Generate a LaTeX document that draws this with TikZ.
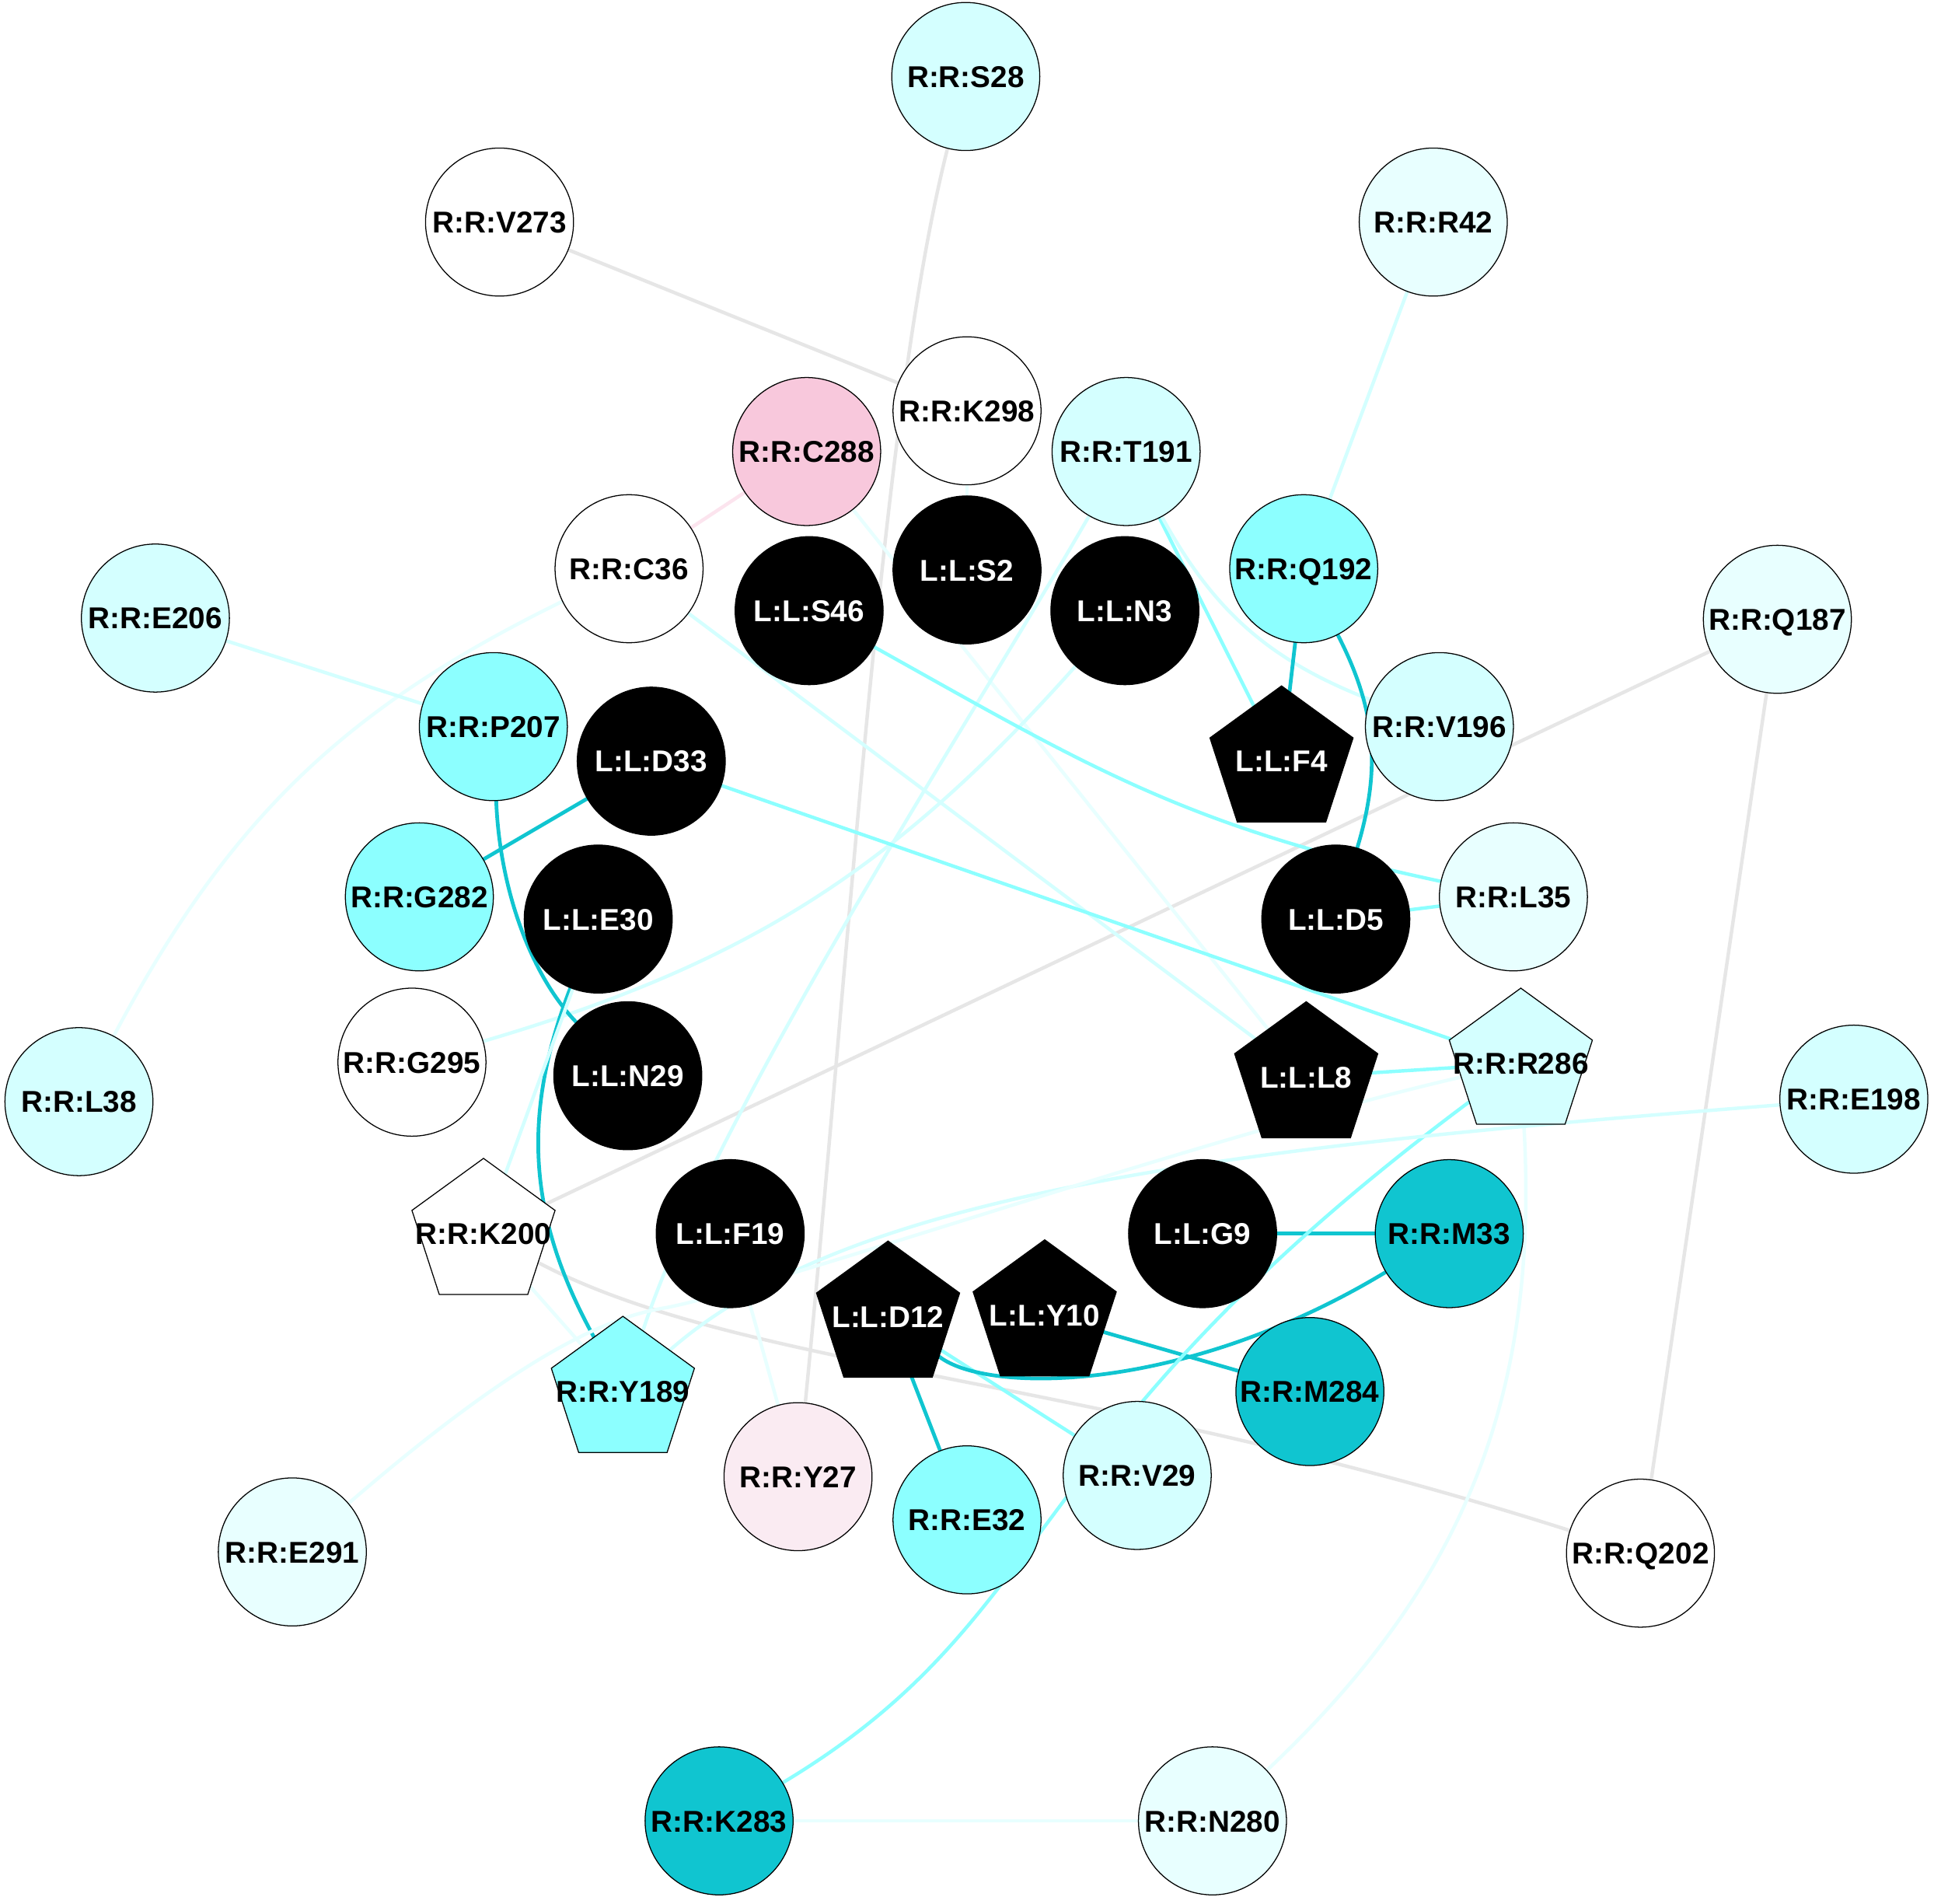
\documentclass[tikz,border=0pt]{standalone}
\usepackage{fontspec}
\setmainfont{Liberation Sans}
\usetikzlibrary{shapes.geometric}
\pgfdeclarelayer{bg}
\pgfsetlayers{bg,main}
\definecolor{cD}{RGB}{16,197,208}
\definecolor{cM}{RGB}{140,255,255}
\definecolor{cL}{RGB}{212,255,255}
\definecolor{cV}{RGB}{232,255,255}
\definecolor{cPk}{RGB}{248,200,220}
\definecolor{cPl}{RGB}{250,235,242}
\definecolor{cG}{RGB}{230,230,230}
\definecolor{cEP}{RGB}{252,228,238}
\newcommand{\nlab}[1]{\makebox[0pt][c]{#1}}
\begin{document}
\begin{tikzpicture}[x=0.5pt,y=0.5pt,
  base/.style={inner sep=0pt, outer sep=0pt, font=\fontsize{12.2}{14}\selectfont\bfseries,
    text height=8.8pt, text depth=0pt, draw=black, line width=0.4pt},
  rc/.style={base, circle, minimum size=60pt},
  rp/.style={base, regular polygon, regular polygon sides=5, minimum size=61pt},
  lc/.style={rc, fill=black, text=white},
  lp/.style={rp, fill=black, text=white},
  edgebase/.style={line width=1.4pt},
  eG/.style={edgebase, draw=cG},
  eD/.style={edgebase, draw=cD, line width=1.5pt},
  eM/.style={edgebase, draw=cM},
  eL/.style={edgebase, draw=cL},
  eV/.style={edgebase, draw=cV},
  eP/.style={edgebase, draw=cEP}]
\useasboundingbox (0,0) rectangle (1568,-1543);
% nodes
\node[rc, fill=cL] (S28) at (783,-62) {\nlab{R:R:S28}};
\node[rc, fill=white] (V273) at (405,-180) {\nlab{R:R:V273}};
\node[rc, fill=cV] (R42) at (1162,-180) {\nlab{R:R:R42}};
\node[rc, fill=white] (K298) at (784,-333) {\nlab{R:R:K298}};
\node[rc, fill=cPk] (C288) at (654,-366) {\nlab{R:R:C288}};
\node[rc, fill=cL] (T191) at (913,-366) {\nlab{R:R:T191}};
\node[rc, fill=white] (C36) at (510,-461) {\nlab{R:R:C36}};
\node[lc] (S46) at (656,-495) {\nlab{L:L:S46}};
\node[lc] (S2) at (784,-462) {\nlab{L:L:S2}};
\node[lc] (N3) at (912,-495) {\nlab{L:L:N3}};
\node[rc, fill=cM] (Q192) at (1057,-461) {\nlab{R:R:Q192}};
\node[rc, fill=cL] (E206) at (126,-501) {\nlab{R:R:E206}};
\node[rc, fill=cV] (Q187) at (1441,-502) {\nlab{R:R:Q187}};
\node[rc, fill=cM] (P207) at (400,-589) {\nlab{R:R:P207}};
\node[lc] (D33) at (528,-617) {\nlab{L:L:D33}};
\node[lp] (F4) at (1039,-617) {\nlab{L:L:F4}};
\node[rc, fill=cL] (V196) at (1167,-589) {\nlab{R:R:V196}};
\node[rc, fill=cM] (G282) at (340,-727) {\nlab{R:R:G282}};
\node[lc] (E30) at (485,-745) {\nlab{L:L:E30}};
\node[lc] (D5) at (1083,-745) {\nlab{L:L:D5}};
\node[rc, fill=cV] (L35) at (1227,-727) {\nlab{R:R:L35}};
\node[rc, fill=white] (G295) at (334,-861) {\nlab{R:R:G295}};
\node[lc] (N29) at (509,-872) {\nlab{L:L:N29}};
\node[lp] (L8) at (1059,-873) {\nlab{L:L:L8}};
\node[rp, fill=cL] (R286) at (1233,-862) {\nlab{R:R:R286}};
\node[rc, fill=cL] (L38) at (64,-893) {\nlab{R:R:L38}};
\node[rc, fill=cL] (E198) at (1503,-891) {\nlab{R:R:E198}};
\node[rp, fill=white] (K200) at (392,-1000) {\nlab{R:R:K200}};
\node[lc] (F19) at (592,-1000) {\nlab{L:L:F19}};
\node[lc] (G9) at (975,-1000) {\nlab{L:L:G9}};
\node[rc, fill=cD] (M33) at (1175,-1000) {\nlab{R:R:M33}};
\node[lp] (D12) at (720,-1067) {\nlab{L:L:D12}};
\node[lp] (Y10) at (847,-1066) {\nlab{L:L:Y10}};
\node[rp, fill=cM] (Y189) at (505,-1128) {\nlab{R:R:Y189}};
\node[rc, fill=cD] (M284) at (1062,-1128) {\nlab{R:R:M284}};
\node[rc, fill=cPl] (Y27) at (647,-1197) {\nlab{R:R:Y27}};
\node[rc, fill=cM] (E32) at (784,-1232) {\nlab{R:R:E32}};
\node[rc, fill=cL] (V29) at (922,-1196) {\nlab{R:R:V29}};
\node[rc, fill=cV] (E291) at (237,-1258) {\nlab{R:R:E291}};
\node[rc, fill=white] (Q202) at (1330,-1259) {\nlab{R:R:Q202}};
\node[rc, fill=cD] (K283) at (583,-1476) {\nlab{R:R:K283}};
\node[rc, fill=cV] (N280) at (983,-1476) {\nlab{R:R:N280}};
% edges
\begin{pgfonlayer}{bg}
\fill[white] (0,0) rectangle (1568,-1543);
\draw[eG] (S28) .. controls (715,-330) and (690,-760) .. (Y27);
\draw[eG] (V273) -- (K298);
\draw[eG] (Q187) -- (K200);
\draw[eG] (Q187) -- (Q202);
\draw[eG] (K200) .. controls (600,-1110) and (880,-1115) .. (Q202);
\draw[eL] (R42) -- (Q192);
\draw[eP] (C288) -- (C36);
\draw[eV] (C288) -- (L8);
\draw[eL] (C36) -- (L8);
\draw[eV] (C36) to[bend right=18] (L38);
\draw[eL] (E206) -- (P207);
\draw[eV] (K298) -- (S2);
\draw[eM] (T191) -- (F4);
\draw[eL] (T191) to[bend right=20] (V196);
\draw[eL] (T191) .. controls (790,-580) and (580,-900) .. (Y189);
\draw[eL] (N3) to[bend left=16] (G295);
\draw[eD] (Q192) -- (F4);
\draw[eD] (Q192) to[bend left=22] (D5);
\draw[eM] (S46) .. controls (880,-620) and (960,-670) .. (L35);
\draw[eD] (D33) -- (G282);
\draw[eM] (D33) -- (R286);
\draw[eD] (P207) .. controls (405,-720) and (430,-790) .. (N29);
\draw[eD] (E30) to[bend right=25] (Y189);
\draw[eL] (K200) -- (E30);
\draw[eV] (K200) -- (Y189);
\draw[eV] (F19) -- (Y27);
\draw[eD] (D12) -- (E32);
\draw[eM] (D12) -- (V29);
\draw[eD] (D12) .. controls (800,-1130) and (960,-1130) .. (M33);
\draw[eD] (Y10) -- (M284);
\draw[eD] (G9) -- (M33);
\draw[eM] (L8) -- (R286);
\draw[eM] (D5) -- (L35);
\draw[eM] (R286) .. controls (820,-1170) and (860,-1310) .. (K283);
\draw[eV] (R286) to[bend left=25] (N280);
\draw[eV] (K283) -- (N280);
\draw[eL] (E198) .. controls (1000,-930) and (690,-965) .. (Y189);
\draw[eV] (R286) .. controls (980,-920) and (620,-1045) .. (540,-1060) .. controls (490,-1068) and (420,-1100) .. (E291);
\end{pgfonlayer}
\end{tikzpicture}
\end{document}
